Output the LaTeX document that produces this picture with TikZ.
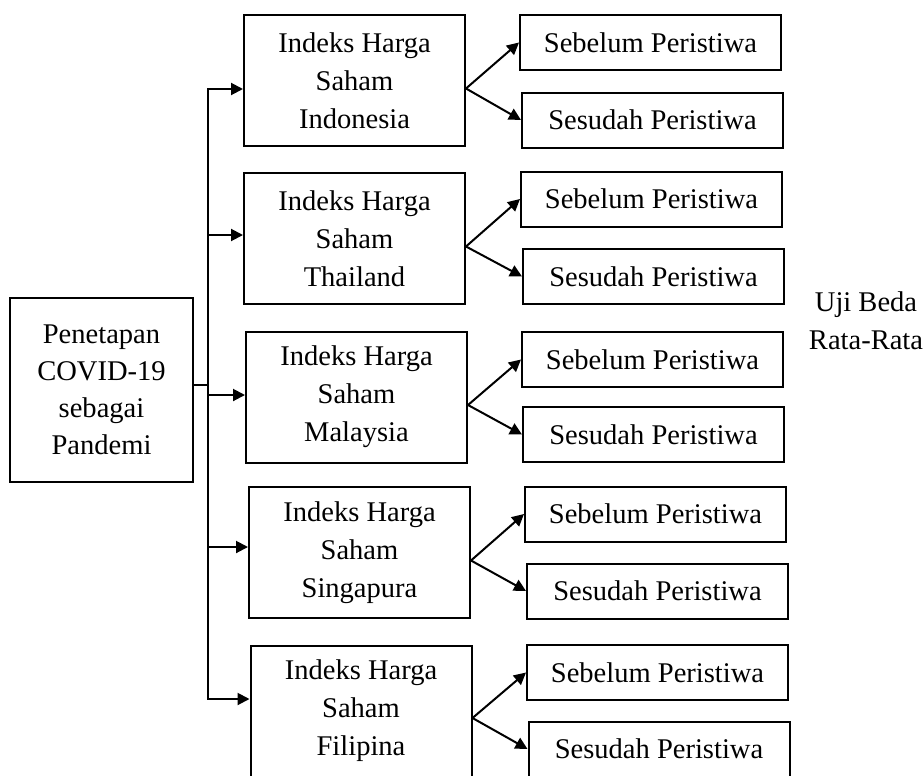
\documentclass[tikz,border=0pt]{standalone}
\usepackage{fontspec}
\setmainfont{Liberation Serif}
\usetikzlibrary{arrows.meta, calc}
\tikzset{
  srcbox/.style={draw, line width=1.5pt, align=center, minimum width=137.25pt, minimum height=138pt, font=\fontsize{21.4}{27.75}\selectfont},
  idxbox/.style={draw, line width=1.5pt, align=center, minimum width=165.75pt, minimum height=98.25pt, font=\fontsize{21.4}{28.5}\selectfont},
  evbox/.style={draw, line width=1.5pt, minimum width=195.75pt, minimum height=41.25pt, font=\fontsize{21.4}{27.75}\selectfont},
  wire/.style={-{Triangle[length=9pt, width=9pt]}, line width=1.5pt},
  link/.style={line width=1.5pt}
}

\begin{document}
\begin{tikzpicture}[x=0.75pt, y=-0.75pt]
        \useasboundingbox (0,0) rectangle (924,775);
        \node[srcbox] (src) at (101.5,390) {Penetapan\\COVID-19\\sebagai\\Pandemi};
        \node[idxbox] (ihs1) at (354.5,80.5) {Indeks Harga\\Saham\\Indonesia};
        \node[idxbox] (ihs2) at (354.5,238.5) {Indeks Harga\\Saham\\Thailand};
        \node[idxbox] (ihs3) at (356.5,397) {Indeks Harga\\Saham\\Malaysia};
        \node[idxbox] (ihs4) at (359.5,552.5) {Indeks Harga\\Saham\\Singapura};
        \node[idxbox] (ihs5) at (361,711) {Indeks Harga\\Saham\\Filipina};
        \node[evbox] (pre1) at (650.5,42.5) {Sebelum Peristiwa};
        \node[evbox] (post1) at (652.5,120) {Sesudah Peristiwa};
        \node[evbox] (pre2) at (651.5,199) {Sebelum Peristiwa};
        \node[evbox] (post2) at (653.5,276.5) {Sesudah Peristiwa};
        \node[evbox] (pre3) at (652.5,359.5) {Sebelum Peristiwa};
        \node[evbox] (post3) at (653.5,434.5) {Sesudah Peristiwa};
        \node[evbox] (pre4) at (655.5,514) {Sebelum Peristiwa};
        \node[evbox] (post4) at (657.5,591) {Sesudah Peristiwa};
        \node[evbox] (pre5) at (657.5,672.5) {Sebelum Peristiwa};
        \node[evbox] (post5) at (659,749) {Sesudah Peristiwa};
        \node[align=center, font=\fontsize{21.4}{28.5}\selectfont] (uji) at (866,321) {Uji Beda\\Rata-Rata};
        % trunk from the source box to the five index boxes
        \coordinate (t1) at (208,89);
        \coordinate (t2) at (208,235);
        \coordinate (t3) at (208,395);
        \coordinate (t4) at (208,547);
        \coordinate (t5) at (208,699);
        \coordinate (tj) at (208,385);
        \draw[link] (src.east |- tj) -- (tj);
        \draw[wire] (t3) -- (t1) -- (t1 -| ihs1.west);
        \draw[wire] (t3) -- (t5) -- (t5 -| ihs5.west);
        \draw[wire] (t2) -- (t2 -| ihs2.west);
        \draw[wire] (t3) -- (t3 -| ihs3.west);
        \draw[wire] (t4) -- (t4 -| ihs4.west);
        % forks: before / after the event
        \coordinate (f1) at ($(ihs1.east)+(0,8)$);
        \coordinate (f2) at ($(ihs2.east)+(0,8)$);
        \coordinate (f3) at ($(ihs3.east)+(0,8)$);
        \coordinate (f4) at ($(ihs4.east)+(0,8)$);
        \coordinate (f5) at ($(ihs5.east)+(0,7)$);
        \draw[wire] (f1) -- (pre1.west);
        \draw[wire] (f1) -- (post1.west);
        \draw[wire] (f2) -- (pre2.west);
        \draw[wire] (f2) -- (post2.west);
        \draw[wire] (f3) -- (pre3.west);
        \draw[wire] (f3) -- (post3.west);
        \draw[wire] (f4) -- (pre4.west);
        \draw[wire] (f4) -- (post4.west);
        \draw[wire] (f5) -- (pre5.west);
        \draw[wire] (f5) -- (post5.west);
\end{tikzpicture}
\end{document}
